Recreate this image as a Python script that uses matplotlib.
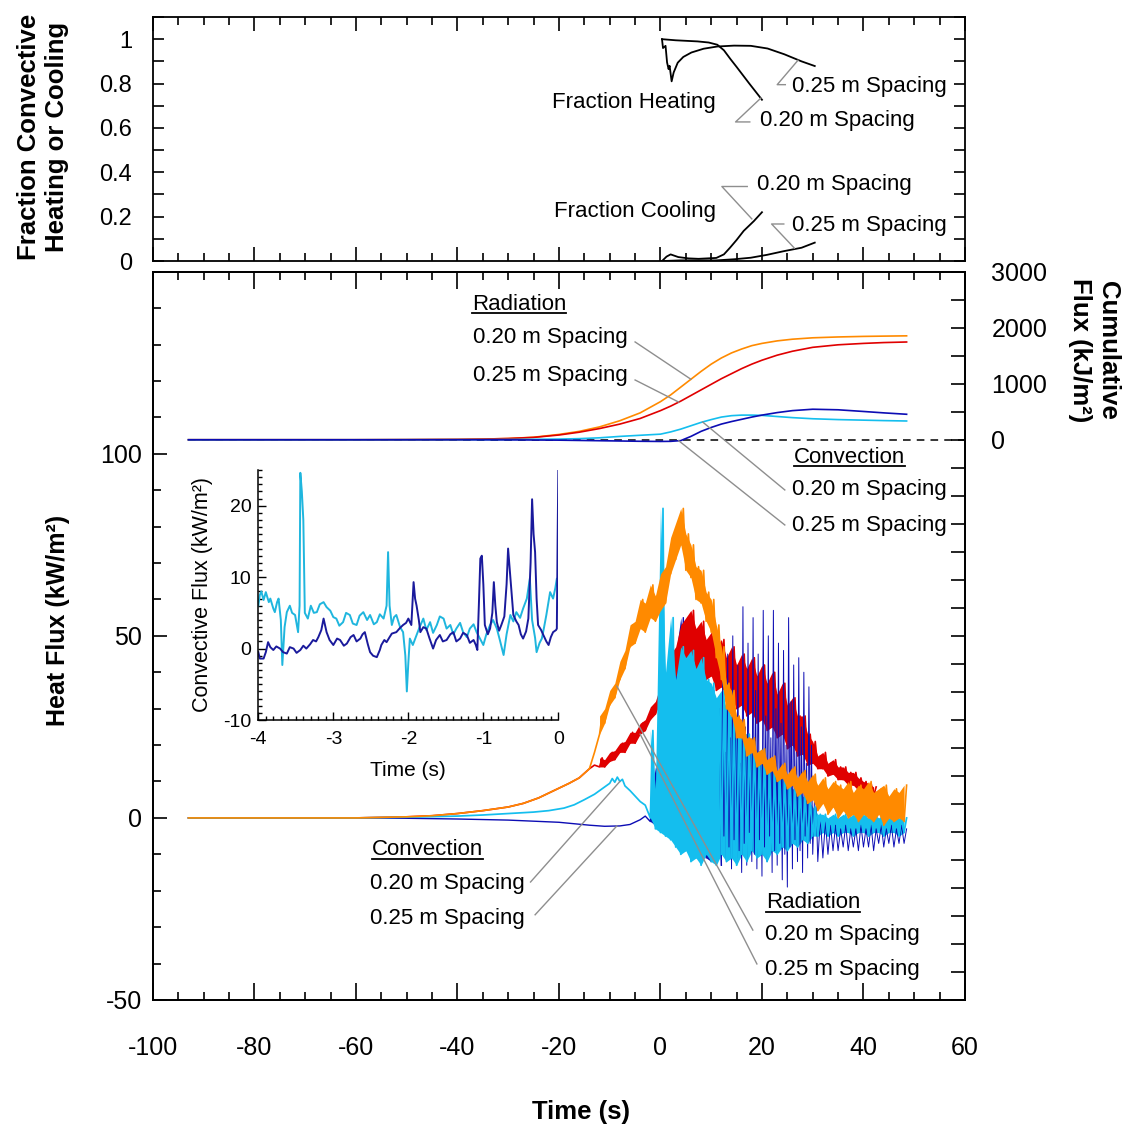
import numpy as np
import matplotlib
matplotlib.use("Agg")
import matplotlib.pyplot as plt
from matplotlib.ticker import MultipleLocator, FixedLocator, FuncFormatter
from matplotlib.lines import Line2D

plt.rcParams['font.family'] = ['Liberation Sans', 'DejaVu Sans']
plt.rcParams['axes.unicode_minus'] = False

C_RAD20 = '#FF8A00'
C_RAD25 = '#E00000'
C_CON20 = '#14BEEE'
C_CON25 = '#0C0CB4'
LEADER = '#8E8E8E'

# ---------------- heat flux (kW/m2) ----------------
# slowly varying lead-in of each trace: time (s), flux
rad20_t = [-93, -80, -60, -50, -45, -40, -35, -30, -27, -24, -21, -18, -16, -14, -13]
rad20_v = [0, 0, 0, 0.3, 0.6, 1.2, 2.0, 3.0, 4.0, 5.5, 7.5, 9.5, 11.0, 13.5, 18.0]
rad25_t = [-93, -80, -60, -50, -45, -40, -35, -30, -27, -24, -21, -18, -16, -14, -13]
rad25_v = [0, 0, 0, 0.3, 0.6, 1.2, 2.0, 3.0, 4.0, 5.5, 7.5, 9.5, 11.0, 13.5, 14.5]
con20_t = [-93, -60, -50, -40, -35, -30, -25, -22, -19, -17, -15, -13, -12, -11, -10,
           -9.5, -9, -8.5, -8, -7.5, -7, -6, -5, -4, -3]
con20_v = [0, 0, 0.2, 0.5, 0.8, 1.2, 1.6, 2.0, 2.7, 3.6, 5.0, 6.5, 7.5, 8.5, 9.5,
           10.8, 9.8, 11.2, 10.0, 10.6, 8.8, 7.5, 6.0, 4.5, 3.5]
con25_t = [-93, -60, -50, -40, -30, -25, -20, -17, -14, -11, -8, -6, -4, -3]
con25_v = [0, 0, -0.1, -0.3, -0.6, -0.9, -1.2, -1.6, -2.0, -2.3, -2.2, -1.8, -0.5, 0.5]

# fluctuating part: minimum / maximum over each sampling interval
rad20_start = -12   # 1 s intervals
rad20_lo = [23, 26, 31, 33, 38, 41, 47, 48, 52, 51, 55, 54, 57, 59, 67, 71, 75, 68, 66, 60,
            59, 54, 51, 44, 38, 30, 28, 22, 22, 17, 18, 14, 15, 12, 13, 10, 11, 8, 9, 6,
            7, 4, 5, 2, 4, 1, 3, 0, 2, 0, 1, -1, 1, 0, -1, 1, -2, 0, -1, 0, -1]
rad20_hi = [28, 30, 35, 37, 43, 46, 53, 54, 60, 59, 64, 61, 67, 69, 77, 81, 85, 78, 75, 69,
            68, 62, 60, 53, 47, 37, 35, 28, 27, 22, 22, 18, 19, 16, 17, 13, 15, 12, 14, 11,
            13, 10, 12, 9, 11, 8, 10, 9, 8, 10, 7, 9, 8, 10, 7, 8, 9, 6, 8, 7, 9]
rad25_start = -12   # 1 s intervals
rad25_lo = [14, 14, 15.5, 16, 18, 18, 20.5, 20.5, 23, 24, 27, 28.5, 32, 33, 38, 39, 44, 44,
            45, 41, 41, 38, 39, 35, 36, 32, 33, 30, 31, 28, 29, 26, 27, 24, 25, 22, 23, 19,
            20, 17, 17.5, 14.5, 15, 13.5, 13.5, 11.5, 12, 10.5, 10.5, 9, 9, 7.5, 7.5, 6, 6]
rad25_hi = [16.5, 16, 18, 18.5, 20.5, 21, 23.5, 23.5, 26, 27, 30.5, 32, 36.5, 39, 45, 47, 53,
            55, 57, 52, 54, 49, 51, 47, 49, 44, 47, 42, 45, 41, 44, 39, 42, 37, 40, 34, 37,
            31, 33, 28, 28, 23, 21, 17, 18, 15, 16, 14, 14, 12.5, 12.5, 11, 10, 9.5, 8.5]
con20_start = -2    # 1 s intervals
con20_lo = [0, -3, -4, -5, -6, -8, -10, -9, -12, -11, -13, -10, -12, -13, -10, -12, -11, -13,
            -10, -12, -9, -11, -10, -12, -9, -10, -8, -9, -7, -8, -6, -7, -5, -5, -4, -5, -4,
            -5, -4, -4, -5, -4, -4, -5, -4, -4, -5, -4, -4, -5, -4]
con20_hi = [24, 8, 85, 40, 55, 38, 47, 44, 46, 41, 44, 38, 37, 33, 35, 30, 28, 27, 24, 23, 21,
            18, 19, 14, 13, 12, 11, 10, 8, 8, 6, 5, 3, 1, 1, 0, 1, 0, 1, 0, 1, 0, 1, 0, 1, 0,
            1, 0, 1, 0, 0]
con25_start = -2    # 1 s intervals, -2 .. 11 s
con25_lo = [-1, -2, -1, -3, -2, -4, -5, -6, -8, -10, -9, -11, -12, -10]
con25_hi = [5, 14, 12, 16, 28, 45, 55, 40, 30, 24, 32, 27, 35, 30]
con25_mid_start = 12   # 0.5 s intervals, 12 .. 29.5 s
con25_mid_lo = [-13, -5, -12, -8, -14, -6, -11, -9, -15, -7, -13, -4, -12, -10, -14, -6, -16,
                -8, -12, -5, -15, -9, -13, -7, -17, -10, -19, -8, -14, -6, -12, -9, -15, -5,
                -11, -7]
con25_mid_hi = [40, 18, 45, 22, 50, 30, 42, 15, 58, 25, 48, 20, 55, 35, 45, 18, 57, 28, 50,
                22, 57, 30, 48, 26, 46, 20, 55, 32, 42, 18, 44, 25, 40, 15, 36, 20]
con25_tail_start = 30  # 1 s intervals, 30 .. 48 s
con25_tail_lo = [-10, -12, -11, -10, -9, -9, -8, -9, -8, -9, -8, -8, -9, -7, -8, -7, -8, -7, -7]
con25_tail_hi = [12, 0, -1, -2, -2, -3, -2, -3, -3, -2, -3, -2, -3, -2, -3, -2, -3, -2, -3]

# ---------------- cumulative flux (kJ/m2) ----------------
cum_t = [-93, -60, -50, -40, -35, -30, -25, -20, -16, -12, -8, -4, 0, 2, 4, 6, 8, 10, 12,
         14, 16, 18, 20, 23, 26, 30, 35, 40, 44, 48.5]
cum_rad20 = [0, 0, 2, 6, 12, 22, 45, 95, 150, 230, 340, 480, 680, 800, 940, 1080, 1220,
             1350, 1460, 1550, 1620, 1680, 1720, 1765, 1795, 1820, 1835, 1845, 1850, 1855]
cum_rad25 = [0, 0, 2, 6, 12, 22, 42, 85, 135, 200, 280, 380, 520, 600, 690, 790, 890, 990,
             1090, 1180, 1270, 1350, 1420, 1510, 1580, 1650, 1695, 1720, 1735, 1745]
cum_con20 = [0, 0, 1, 2, 3, 5, 8, 12, 20, 35, 60, 80, 100, 140, 190, 250, 310, 360, 405,
             430, 440, 440, 435, 415, 395, 375, 360, 350, 342, 335]
cum_con25 = [0, 0, 0, 0, -1, -2, -4, -7, -12, -17, -22, -27, -30, -28, -15, 60, 150, 220,
             280, 325, 365, 405, 440, 485, 520, 545, 535, 505, 480, 455]

# ---------------- fraction of convective heating / cooling ----------------
heat20 = [(0.3, 1.0), (3.0, 0.995), (7.3, 0.99), (9.5, 0.985), (11.2, 0.975), (12.5, 0.95),
          (13.8, 0.91), (15.0, 0.875), (16.4, 0.833), (17.5, 0.8), (18.7, 0.765), (20.0, 0.727)]
heat25 = [(0.3, 1.0), (0.5, 0.96), (1.0, 0.97), (1.3, 0.895), (1.6, 0.865), (1.8, 0.88),
          (2.2, 0.81), (2.6, 0.85), (3.4, 0.894), (4.5, 0.92), (6.1, 0.94), (8.5, 0.957),
          (11.2, 0.967), (14.5, 0.971), (17.8, 0.97), (21.1, 0.958), (24.4, 0.932),
          (27.8, 0.90), (30.4, 0.879)]
cool20 = [(0.3, 0.0), (1.2, 0.02), (2.0, 0.03), (3.5, 0.018), (5.5, 0.012), (7.5, 0.01),
          (11.0, 0.014), (12.5, 0.03), (13.7, 0.06), (15.0, 0.095), (16.4, 0.136),
          (18.4, 0.18), (20.0, 0.22)]
cool25 = [(0.3, 0.0), (4.0, 0.003), (11.0, 0.003), (14.5, 0.008), (17.8, 0.015), (21.0, 0.028),
          (24.4, 0.045), (27.8, 0.06), (30.4, 0.083)]

# ---------------- inset: convective flux just before arrival ----------------
inset_con20 = [(-4.0, 6.0), (-3.98, 7.5), (-3.96, 8.0), (-3.93, 6.8), (-3.9, 7.9), (-3.86, 6.5),
               (-3.84, 7.0), (-3.8, 5.6), (-3.78, 5.1), (-3.75, 6.5), (-3.73, 7.0), (-3.7, 4.0),
               (-3.68, -2.3), (-3.65, 3.0), (-3.62, 5.1), (-3.58, 6.0), (-3.55, 5.0), (-3.51, 4.7),
               (-3.47, 2.3), (-3.45, 6.0), (-3.44, 24.6), (-3.42, 22.0), (-3.4, 18.0),
               (-3.38, 5.0), (-3.34, 4.2), (-3.3, 6.0), (-3.26, 5.0), (-3.22, 5.1), (-3.18, 6.2),
               (-3.13, 6.5), (-3.09, 5.8), (-3.04, 5.3), (-3.0, 4.4), (-2.96, 4.2), (-2.92, 3.2),
               (-2.87, 3.7), (-2.83, 5.0), (-2.78, 4.7), (-2.74, 3.5), (-2.69, 3.3), (-2.65, 4.6),
               (-2.6, 5.1), (-2.55, 4.0), (-2.51, 4.7), (-2.46, 3.4), (-2.42, 3.7), (-2.38, 4.8),
               (-2.33, 4.2), (-2.29, 6.0), (-2.27, 13.5), (-2.25, 6.0), (-2.22, 3.3), (-2.19, 4.4),
               (-2.16, 4.7), (-2.11, 3.0), (-2.07, 2.3), (-2.04, -1.0), (-2.02, -6.0),
               (-2.0, -2.0), (-1.98, 1.4), (-1.94, 0.5), (-1.89, 1.9), (-1.85, 3.0), (-1.8, 4.2),
               (-1.76, 2.6), (-1.71, 3.7), (-1.67, 2.2), (-1.62, 3.3), (-1.58, 4.5), (-1.53, 4.2),
               (-1.49, 2.8), (-1.44, 3.3), (-1.4, 2.0), (-1.36, 2.8), (-1.31, 3.6), (-1.27, 2.3),
               (-1.22, 1.6), (-1.18, 2.8), (-1.13, 3.4), (-1.09, 2.3), (-1.05, 1.5), (-1.0, 0.5),
               (-0.96, 2.0), (-0.91, 3.3), (-0.87, 4.0), (-0.82, 2.8), (-0.78, 1.2),
               (-0.73, -0.9), (-0.69, 2.0), (-0.64, 4.7), (-0.6, 3.8), (-0.56, 5.1), (-0.51, 4.3),
               (-0.47, 5.6), (-0.42, 7.0), (-0.38, 9.8), (-0.35, 4.0), (-0.31, 1.5),
               (-0.29, -0.5), (-0.25, 0.8), (-0.22, 1.4), (-0.19, 3.0), (-0.16, 4.7),
               (-0.11, 7.9), (-0.07, 7.0), (-0.04, 8.5), (-0.02, 9.8), (0.0, 8.0)]
inset_con25 = [(-4.0, -0.5), (-3.98, -1.4), (-3.93, -1.4), (-3.9, -0.5), (-3.87, 0.9),
               (-3.84, 0.2), (-3.8, -0.2), (-3.76, 0.3), (-3.71, 0.0), (-3.67, -0.5),
               (-3.62, -0.7), (-3.58, 0.2), (-3.53, 0.0), (-3.49, -0.6), (-3.44, -0.2),
               (-3.4, 0.4), (-3.36, 0.0), (-3.31, 0.6), (-3.27, 1.2), (-3.23, 1.0), (-3.2, 1.6),
               (-3.16, 2.6), (-3.13, 4.2), (-3.09, 2.3), (-3.05, 1.2), (-3.0, 0.5),
               (-2.95, 1.4), (-2.91, 1.2), (-2.86, 0.4), (-2.82, 0.7), (-2.77, 1.6),
               (-2.73, 1.9), (-2.69, 1.0), (-2.64, 1.4), (-2.61, 2.0), (-2.58, 2.3),
               (-2.54, 0.6), (-2.51, -0.5), (-2.47, -1.0), (-2.42, -1.2), (-2.38, -0.2),
               (-2.36, 0.5), (-2.32, 1.2), (-2.29, 0.9), (-2.25, 1.6), (-2.22, 2.1), (-2.16, 2.3),
               (-2.11, 2.9), (-2.07, 3.3), (-2.03, 3.6), (-2.0, 4.2), (-1.96, 3.3),
               (-1.93, 9.3), (-1.91, 7.0), (-1.89, 6.0), (-1.86, 4.0), (-1.84, 2.3), (-1.8, 3.0),
               (-1.76, 2.8), (-1.72, 1.5), (-1.67, 0.0), (-1.63, 1.2), (-1.58, 1.9),
               (-1.54, 1.0), (-1.49, 1.2), (-1.44, 2.0), (-1.4, 2.3), (-1.36, 1.0), (-1.31, 1.4),
               (-1.27, 2.2), (-1.22, 1.9), (-1.18, 0.8), (-1.13, 1.2), (-1.1, 0.5),
               (-1.08, -0.2), (-1.06, 6.0), (-1.04, 12.6), (-1.02, 13.0), (-1.0, 9.0),
               (-0.98, 3.3), (-0.94, 2.0), (-0.91, 2.8), (-0.88, 5.0), (-0.86, 9.3),
               (-0.84, 6.0), (-0.82, 3.7), (-0.79, 2.5), (-0.76, 3.3), (-0.72, 4.5),
               (-0.69, 9.0), (-0.67, 14.0), (-0.64, 10.0), (-0.6, 4.7), (-0.56, 3.8),
               (-0.53, 3.3), (-0.5, 2.0), (-0.47, 1.4), (-0.43, 2.4), (-0.4, 4.2),
               (-0.37, 12.0), (-0.35, 20.9), (-0.33, 16.0), (-0.31, 13.5), (-0.29, 7.0),
               (-0.27, 3.3), (-0.23, 2.6), (-0.2, 1.9), (-0.16, 1.0), (-0.13, 0.5),
               (-0.1, 1.6), (-0.07, 2.3), (-0.03, 2.6), (-0.02, 2.8), (-0.01, 15.0), (0.0, 25.0)]


def segment(start, step, lo, hi):
    """Min/max record over fixed intervals drawn as an alternating trace."""
    t = start + step * np.arange(len(lo), dtype=float)
    tz = np.column_stack([t, t + step / 2]).ravel()
    vz = np.column_stack([lo, hi]).ravel()
    return tz, vz


def trace(lead_t, lead_v, *segs):
    ts, vs = [np.asarray(lead_t, float)], [np.asarray(lead_v, float)]
    for s in segs:
        tz, vz = segment(*s)
        ts.append(tz)
        vs.append(vz)
    return np.concatenate(ts), np.concatenate(vs)


def band(axis, start, step, lo, hi, color, z):
    """Shaded min/max envelope of the fluctuating record."""
    t = start + step * np.arange(len(lo), dtype=float)
    axis.fill_between(t, lo, hi, color=color, lw=0, zorder=z)


W = H = 1133
fig = plt.figure(figsize=(W / 100, H / 100), dpi=100)
ax_top = fig.add_axes([0.1350, 0.7696, 0.7167, 0.2154])
ax = fig.add_axes([0.1350, 0.1174, 0.7167, 0.6428])
ax2 = ax.twinx()
ins = fig.add_axes([0.2280, 0.3645, 0.2648, 0.2207])
ins.patch.set_alpha(0)

TICK_FS = 18
ANN_FS = 16

for a in (ax_top, ax, ax2):
    for s in a.spines.values():
        s.set_linewidth(1.3)

# ---------- top panel ----------
for series in (heat20, heat25, cool20, cool25):
    tt, vv = zip(*series)
    ax_top.plot(tt, vv, color='black', lw=1.3)
ax_top.set_xlim(-100, 60)
ax_top.set_ylim(0, 1.1)
ax_top.xaxis.set_major_locator(MultipleLocator(20))
ax_top.xaxis.set_minor_locator(MultipleLocator(5))
ax_top.yaxis.set_major_locator(FixedLocator([0, 0.2, 0.4, 0.6, 0.8, 1.0]))
ax_top.yaxis.set_minor_locator(MultipleLocator(0.1))
ax_top.yaxis.set_major_formatter(FuncFormatter(lambda v, p: f'{v:g}'))
ax_top.tick_params(axis='x', which='both', direction='in', top=True, bottom=True,
                   labelbottom=False, width=1.2)
ax_top.tick_params(axis='x', which='major', length=10)
ax_top.tick_params(axis='x', which='minor', length=6)
ax_top.tick_params(axis='y', which='both', direction='in', left=True, right=True,
                   length=8, width=1.2, labelsize=17, pad=15)

top_leaders = [
    [(27.1, 0.905), (23.0, 0.795), (24.6, 0.795)],
    [(19.8, 0.735), (14.8, 0.627), (17.6, 0.627)],
    [(18.0, 0.19), (12.1, 0.336), (17.1, 0.336)],
    [(26.4, 0.058), (21.9, 0.167), (24.3, 0.167)],
]
for pts in top_leaders:
    xs, ys = zip(*pts)
    ax_top.plot(xs, ys, color=LEADER, lw=1.0)
ax_top.text(-5.2, 0.714, 'Fraction Heating', fontsize=ANN_FS, ha='center', va='center')
ax_top.text(25.9, 0.786, '0.25 m Spacing', fontsize=ANN_FS, va='center')
ax_top.text(19.6, 0.632, '0.20 m Spacing', fontsize=ANN_FS, va='center')
ax_top.text(19.0, 0.345, '0.20 m Spacing', fontsize=ANN_FS, va='center')
ax_top.text(-5.0, 0.223, 'Fraction Cooling', fontsize=ANN_FS, ha='center', va='center')
ax_top.text(25.9, 0.159, '0.25 m Spacing', fontsize=ANN_FS, va='center')

# ---------- main panel: heat flux ----------
r20_t, r20_v = trace(rad20_t, rad20_v, (rad20_start, 1.0, rad20_lo, rad20_hi))
r25_t, r25_v = trace(rad25_t, rad25_v, (rad25_start, 1.0, rad25_lo, rad25_hi))
c20_t, c20_v = trace(con20_t, con20_v, (con20_start, 1.0, con20_lo, con20_hi))
c25_t, c25_v = trace(con25_t, con25_v, (con25_start, 1.0, con25_lo, con25_hi),
                     (con25_mid_start, 0.5, con25_mid_lo, con25_mid_hi),
                     (con25_tail_start, 1.0, con25_tail_lo, con25_tail_hi))

# 0.25 m convection: the early burst sits beneath the other traces, the rest on top
early = c25_t <= con25_mid_start
late = c25_t >= con25_mid_start - 0.5
band(ax, con25_start, 1.0, con25_lo, con25_hi, C_CON25, 1.4)
ax.plot(c25_t[early], c25_v[early], color=C_CON25, lw=1.0, zorder=1.5)

band(ax, rad25_start, 1.0, rad25_lo, rad25_hi, C_RAD25, 1.9)
ax.plot(r25_t, r25_v, color=C_RAD25, lw=1.2, zorder=2)

band(ax, con20_start, 1.0, con20_lo, con20_hi, C_CON20, 2.9)
ax.plot(c25_t[late], c25_v[late], color=C_CON25, lw=0.7, zorder=3.2)
ax.plot(c20_t, c20_v, color=C_CON20, lw=1.25, zorder=3.4)

band(ax, rad20_start, 1.0, rad20_lo, rad20_hi, C_RAD20, 4.9)
ax.plot(r20_t, r20_v, color=C_RAD20, lw=1.2, zorder=5)

ax.set_xlim(-100, 60)
ax.set_ylim(-50, 150)
ax.xaxis.set_major_locator(MultipleLocator(20))
ax.xaxis.set_minor_locator(MultipleLocator(5))
ax.yaxis.set_major_locator(FixedLocator([-50, 0, 50, 100]))
ax.yaxis.set_minor_locator(MultipleLocator(10))
ax.tick_params(axis='x', which='both', direction='in', top=True, bottom=True, width=1.2,
               labelsize=TICK_FS, pad=26)
ax.tick_params(axis='x', which='major', length=12)
ax.tick_params(axis='x', which='minor', length=6)
ax.tick_params(axis='y', which='both', direction='in', left=True, right=False, width=1.2,
               labelsize=TICK_FS, pad=8)
ax.tick_params(axis='y', which='major', length=10)
ax.tick_params(axis='y', which='minor', length=6)

# ---------- main panel: cumulative flux (right axis) ----------
ax2.plot([-93, 60], [0, 0], color='black', lw=1.1, ls=(0, (5, 4)), zorder=1)
ax2.plot(cum_t, cum_rad20, color=C_RAD20, lw=1.2, zorder=2)
ax2.plot(cum_t, cum_rad25, color=C_RAD25, lw=1.2, zorder=2)
ax2.plot(cum_t, cum_con20, color=C_CON20, lw=1.2, zorder=2)
ax2.plot(cum_t, cum_con25, color=C_CON25, lw=1.2, zorder=2)
ax2.set_ylim(-10000, 3000)
ax2.yaxis.set_major_locator(MultipleLocator(500))
ax2.yaxis.set_major_formatter(
    FuncFormatter(lambda v, p: f'{int(round(v))}' if 0 <= round(v) <= 3000 and round(v) % 1000 == 0 else ''))
ax2.tick_params(axis='y', direction='in', length=10, width=1.2, labelsize=TICK_FS, pad=19)


# leaders to the cumulative curves (right-axis units)
def cum_leader(t0, c0, t1, curve):
    ax2.plot([t0, t1], [c0, np.interp(t1, cum_t, curve)], color=LEADER, lw=1.0, zorder=3)


cum_leader(-5.0, 1746, 6.0, cum_rad20)
cum_leader(-5.0, 1067, 3.6, cum_rad25)
cum_leader(24.5, -896, 8.3, cum_con20)
cum_leader(24.5, -1521, 3.6, cum_con25)


# leaders to the heat flux traces (left-axis units)
def flux_leader(t0, v0, t1, tt, vv):
    ax.plot([t0, t1], [v0, np.interp(t1, tt, vv)], color=LEADER, lw=1.0, zorder=6)


flux_leader(-25.6, -17.6, -8.0, c20_t, c20_v)
flux_leader(-24.7, -26.6, -8.6, c25_t, c25_v)
flux_leader(18.2, -30.8, -8.6, r20_t, r20_v)
flux_leader(19.0, -40.1, -4.0, r25_t, r25_v)

underlined = []
underlined.append(ax.text(-27.9, 141.1, 'Radiation', fontsize=ANN_FS, ha='center', va='center'))
ax.text(-36.9, 131.8, '0.20 m Spacing', fontsize=ANN_FS, va='center')
ax.text(-36.9, 121.4, '0.25 m Spacing', fontsize=ANN_FS, va='center')
underlined.append(ax.text(37.3, 99.1, 'Convection', fontsize=ANN_FS, ha='center', va='center'))
ax.text(25.9, 90.1, '0.20 m Spacing', fontsize=ANN_FS, va='center')
ax.text(25.9, 80.2, '0.25 m Spacing', fontsize=ANN_FS, va='center')
underlined.append(ax.text(-45.9, -8.8, 'Convection', fontsize=ANN_FS, ha='center', va='center'))
ax.text(-57.2, -18.1, '0.20 m Spacing', fontsize=ANN_FS, va='center')
ax.text(-57.2, -27.7, '0.25 m Spacing', fontsize=ANN_FS, va='center')
underlined.append(ax.text(30.1, -23.3, 'Radiation', fontsize=ANN_FS, ha='center', va='center'))
ax.text(20.6, -32.1, '0.20 m Spacing', fontsize=ANN_FS, va='center')
ax.text(20.6, -41.7, '0.25 m Spacing', fontsize=ANN_FS, va='center')

# ---------- inset ----------
it, iv = zip(*inset_con20)
ins.plot(it, iv, color='#1FB6DE', lw=1.4)
it, iv = zip(*inset_con25)
ins.plot(it, iv, color='#1A1A9C', lw=1.4)
ins.set_xlim(-4, 0)
ins.set_ylim(-10, 25)
ins.spines['top'].set_visible(False)
ins.spines['right'].set_visible(False)
for s in ('left', 'bottom'):
    ins.spines[s].set_linewidth(1.1)
ins.xaxis.set_major_locator(MultipleLocator(1))
ins.xaxis.set_minor_locator(MultipleLocator(0.1))
ins.yaxis.set_major_locator(MultipleLocator(10))
ins.yaxis.set_minor_locator(MultipleLocator(1))
ins.xaxis.set_major_formatter(FuncFormatter(lambda v, p: f'{v:g}'))
ins.tick_params(which='both', direction='in', width=1.0, labelsize=14)
ins.tick_params(which='major', length=6)
ins.tick_params(which='minor', length=3)
ins.tick_params(axis='x', pad=8)
ins.tick_params(axis='y', pad=5)
ins.set_xlabel('Time (s)', fontsize=15)
ins.xaxis.set_label_coords(0.5, -0.165)
ins.set_ylabel('Convective Flux (kW/m²)', fontsize=15.5)
ins.yaxis.set_label_coords(-0.15, 0.5)

# ---------- axis titles ----------
fig.text(58 / W, 1 - 620 / H, 'Heat Flux (kW/m²)', rotation=90, fontsize=18,
         fontweight='bold', ha='center', va='center')
fig.text(581 / W, 1 - 1112 / H, 'Time (s)', fontsize=18.5, fontweight='bold',
         ha='center', va='center')
fig.text(43 / W, 1 - 137 / H, 'Fraction Convective\nHeating or Cooling', rotation=90,
         fontsize=18.5, fontweight='bold', ha='center', va='center', multialignment='center')
fig.text(1094 / W, 1 - 350 / H, 'Cumulative\nFlux (kJ/m²)', rotation=270, fontsize=18.5,
         fontweight='bold', ha='center', va='center', multialignment='center')

# underline the group headings
fig.canvas.draw()
renderer = fig.canvas.get_renderer()
for txt in underlined:
    bb = txt.get_window_extent(renderer)
    y = (bb.y0 + 1.5) / H
    fig.add_artist(Line2D([bb.x0 / W, bb.x1 / W], [y, y], transform=fig.transFigure,
                          color='black', lw=1.3))

fig.savefig('out.png', dpi=100)
